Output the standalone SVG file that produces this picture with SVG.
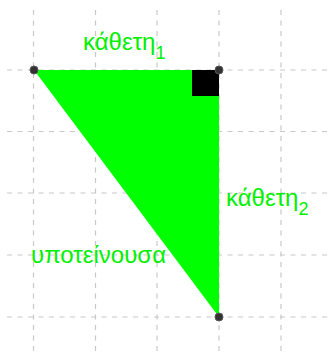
<svg xmlns="http://www.w3.org/2000/svg" width="332" height="356" viewBox="0 0 332 356">
<style>
.grid line{stroke:#c8c8c8;stroke-width:1.2;stroke-dasharray:5 5.5}
.lbl{font-family:"Liberation Sans",Arial,sans-serif;font-size:24px;fill:#00f000}
.sub{font-size:18px}
.pt{fill:#333;stroke:#555;stroke-width:1}
</style>
<rect width="332" height="356" fill="#fff"/>
<g id="grid" class="grid">
<line x1="33.5" y1="10" x2="33.5" y2="356"/>
<line x1="95.5" y1="10" x2="95.5" y2="356"/>
<line x1="157" y1="10" x2="157" y2="356"/>
<line x1="219" y1="10" x2="219" y2="356"/>
<line x1="281" y1="10" x2="281" y2="356"/>
<line x1="7" y1="70" x2="332" y2="70"/>
<line x1="7" y1="131.5" x2="332" y2="131.5"/>
<line x1="7" y1="193" x2="332" y2="193"/>
<line x1="7" y1="255" x2="332" y2="255"/>
<line x1="7" y1="317" x2="332" y2="317"/>
</g>
<g id="triangle">
<polygon points="34,70 219,70 219,317" fill="#00ff00"/>
<rect x="192" y="70" width="27" height="26" fill="#000"/>
</g>
<g id="connectors"></g>
<g id="points">
<circle class="pt" cx="34" cy="70" r="4"/>
<circle class="pt" cx="219" cy="70" r="4"/>
<circle class="pt" cx="219" cy="317" r="4"/>
</g>
<g id="label-k1"><text class="lbl" x="83" y="50">κάθετη<tspan class="sub" dy="9">1</tspan></text></g>
<g id="label-k2"><text class="lbl" x="226" y="206">κάθετη<tspan class="sub" dy="9">2</tspan></text></g>
<g id="label-hyp"><text class="lbl" x="31" y="263">υποτείνουσα</text></g>
</svg>
